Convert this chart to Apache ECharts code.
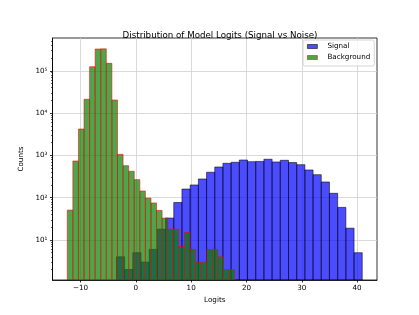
<!DOCTYPE html>
<html>
<head>
<meta charset="utf-8">
<script src="https://cdn.jsdelivr.net/npm/echarts@6/dist/echarts.min.js"></script>
<style>
html,body{margin:0;padding:0;background:#fff;}
#chart{width:419px;height:315px;}
</style>
</head>
<body>
<div id="chart"></div>
<script>
// ---- Data ----
var signalEdges = [-3.52, -2.04, -0.56, 0.93, 2.41, 3.89, 5.37, 6.85, 8.33, 9.82, 11.30, 12.78, 14.26, 15.74, 17.22, 18.71, 20.19, 21.67, 23.15, 24.63, 26.11, 27.60, 29.08, 30.56, 32.04, 33.52, 35.00, 36.49, 37.97, 39.45, 40.93];
var signalCounts = [4, 2, 5, 3, 6, 18, 33, 77, 160, 200, 277, 400, 532, 650, 687, 777, 710, 720, 810, 698, 766, 676, 603, 452, 350, 235, 127, 59, 19, 5];
var backgroundEdges = [-12.41, -11.40, -10.39, -9.38, -8.37, -7.37, -6.36, -5.35, -4.34, -3.33, -2.32, -1.31, -0.30, 0.71, 1.72, 2.73, 3.73, 4.74, 5.75, 6.76, 7.77, 8.78, 9.79, 10.80, 11.81, 12.82, 13.82, 14.83, 15.84, 16.85, 17.86];
var backgroundCounts = [51, 738, 4210, 21200, 125000, 327000, 330000, 150000, 20400, 1060, 571, 421, 267, 144, 98, 75, 50, 33, 18, 18, 7, 15, 6, 3, 3, 6, 6, 4, 2, 2];
var xTicks = [-10, 0, 10, 20, 30, 40];
var yTicks = [10, 100, 1000, 10000, 100000];
var seriesNames = ['Signal', 'Background'];
var titleText = 'Distribution of Model Logits (Signal vs Noise)';
var xName = 'Logits';
var yName = 'Counts';

// ---- Axis extents (matplotlib-like margins) ----
var X_MIN = -15.08, X_MAX = 43.6;
var Y_MIN = 1.133, Y_MAX = 596000;

var yMinor = [];
for (var e = 0; e <= 5; e++) {
  for (var m = 2; m <= 9; m++) {
    var v = m * Math.pow(10, e);
    if (v >= Y_MIN && v <= Y_MAX) yMinor.push(v);
  }
}

function histData(edges, counts) {
  var out = [];
  for (var i = 0; i < counts.length; i++) out.push([edges[i], edges[i + 1], counts[i]]);
  return out;
}

var FONT = 'DejaVu Sans';
var sup = ['\u2070', '\u00b9', '\u00b2', '\u00b3', '\u2074', '\u2075', '\u2076', '\u2077', '\u2078', '\u2079'];
function supNum(n) { return String(n).split('').map(function (d) { return sup[+d]; }).join(''); }

function makeRender(fill, stroke) {
  return function (params, api) {
    var p0 = api.coord([api.value(0), api.value(2)]);
    var p1 = api.coord([api.value(1), Y_MIN]);
    return {
      type: 'rect',
      shape: { x: p0[0], y: p0[1], width: p1[0] - p0[0], height: p1[1] - p0[1] },
      style: { fill: fill, stroke: stroke, lineWidth: 0.8 }
    };
  };
}

var chart = echarts.init(document.getElementById('chart'), null, { renderer: 'canvas' });
chart.setOption({
  animation: false,
  backgroundColor: '#ffffff',
  textStyle: { fontFamily: FONT },
  title: {
    text: titleText,
    left: 215, textAlign: 'center', top: 26,
    textStyle: { fontFamily: FONT, fontSize: 8.7, fontWeight: 'normal', color: '#000' }
  },
  legend: {
    orient: 'vertical',
    left: 303, top: 40,
    padding: [2, 4, 4, 4],
    itemGap: 2,
    itemWidth: 10, itemHeight: 4,
    backgroundColor: 'rgba(255,255,255,0.8)',
    borderColor: '#cccccc', borderWidth: 0.8, borderRadius: 2,
    textStyle: { fontFamily: FONT, fontSize: 7.2, color: '#000', lineHeight: 9, padding: [0, 0, 0, 5] },
    data: [
      { name: seriesNames[0], icon: 'rect', itemStyle: { color: 'rgba(0,0,255,0.7)', borderColor: 'rgba(0,0,0,0.7)', borderWidth: 0.8 } },
      { name: seriesNames[1], icon: 'rect', itemStyle: { color: 'rgba(0,128,0,0.7)', borderColor: 'rgba(255,0,0,0.7)', borderWidth: 0.8 } }
    ]
  },
  grid: {
    left: 52.5, top: 38, width: 324.5, height: 242,
    show: true, borderColor: '#000', borderWidth: 0.8, backgroundColor: 'transparent',
    containLabel: false
  },
  xAxis: {
    type: 'value', min: X_MIN, max: X_MAX, splitNumber: 5,
    name: xName, nameLocation: 'middle', nameGap: 13.5,
    nameTextStyle: { fontFamily: FONT, fontSize: 7.2, color: '#000' },
    axisLine: { show: true, onZero: false, lineStyle: { color: '#000', width: 0.8 } },
    axisTick: { show: true, length: 2.5, lineStyle: { color: '#000', width: 0.8 }, customValues: xTicks },
    axisLabel: {
      fontFamily: FONT, fontSize: 7.2, color: '#000', margin: 4.5,
      customValues: xTicks,
      formatter: function (v) { return v < 0 ? '\u2212' + Math.abs(v) : String(v); }
    },
    splitLine: { show: true, lineStyle: { color: '#d0d0d0', width: 0.8 } }
  },
  yAxis: [{
    type: 'log', logBase: 10, min: Y_MIN, max: Y_MAX, position: 'left',
    name: yName, nameLocation: 'middle', nameGap: 21,
    nameTextStyle: { fontFamily: FONT, fontSize: 7.2, color: '#000' },
    axisLine: { show: true, onZero: false, lineStyle: { color: '#000', width: 0.8 } },
    axisTick: { show: true, length: 2.5, lineStyle: { color: '#000', width: 0.8 }, customValues: yTicks },
    axisLabel: {
      fontFamily: FONT, fontSize: 7.2, color: '#000', margin: 5,
      customValues: yTicks,
      formatter: function (v) {
        var ex = v >= 10 ? Math.round(Math.log10(v)) : Math.round(v);
        return '10' + supNum(ex);
      }
    },
    splitLine: { show: true, lineStyle: { color: '#d0d0d0', width: 0.8 } },
    minorTick: { show: false }
  }, {
    type: 'log', logBase: 10, min: Y_MIN, max: Y_MAX, position: 'left', offset: 0,
    axisLine: { show: false, onZero: false },
    axisTick: { show: true, length: 1.5, lineStyle: { color: '#000', width: 0.6 }, customValues: yMinor },
    axisLabel: { show: false },
    splitLine: { show: false }
  }],
  series: [{
    name: seriesNames[0], type: 'custom', yAxisIndex: 0,
    itemStyle: { color: 'rgba(0,0,255,0.7)', borderColor: 'rgba(0,0,0,0.7)' },
    renderItem: makeRender('rgba(0,0,255,0.7)', 'rgba(0,0,0,0.7)'),
    encode: { x: [0, 1], y: 2 },
    data: histData(signalEdges, signalCounts),
    clip: true
  }, {
    name: seriesNames[1], type: 'custom', yAxisIndex: 0,
    itemStyle: { color: 'rgba(0,128,0,0.7)', borderColor: 'rgba(255,0,0,0.7)' },
    renderItem: makeRender('rgba(0,128,0,0.7)', 'rgba(255,0,0,0.7)'),
    encode: { x: [0, 1], y: 2 },
    data: histData(backgroundEdges, backgroundCounts),
    clip: true
  }]
});
</script>
</body>
</html>
